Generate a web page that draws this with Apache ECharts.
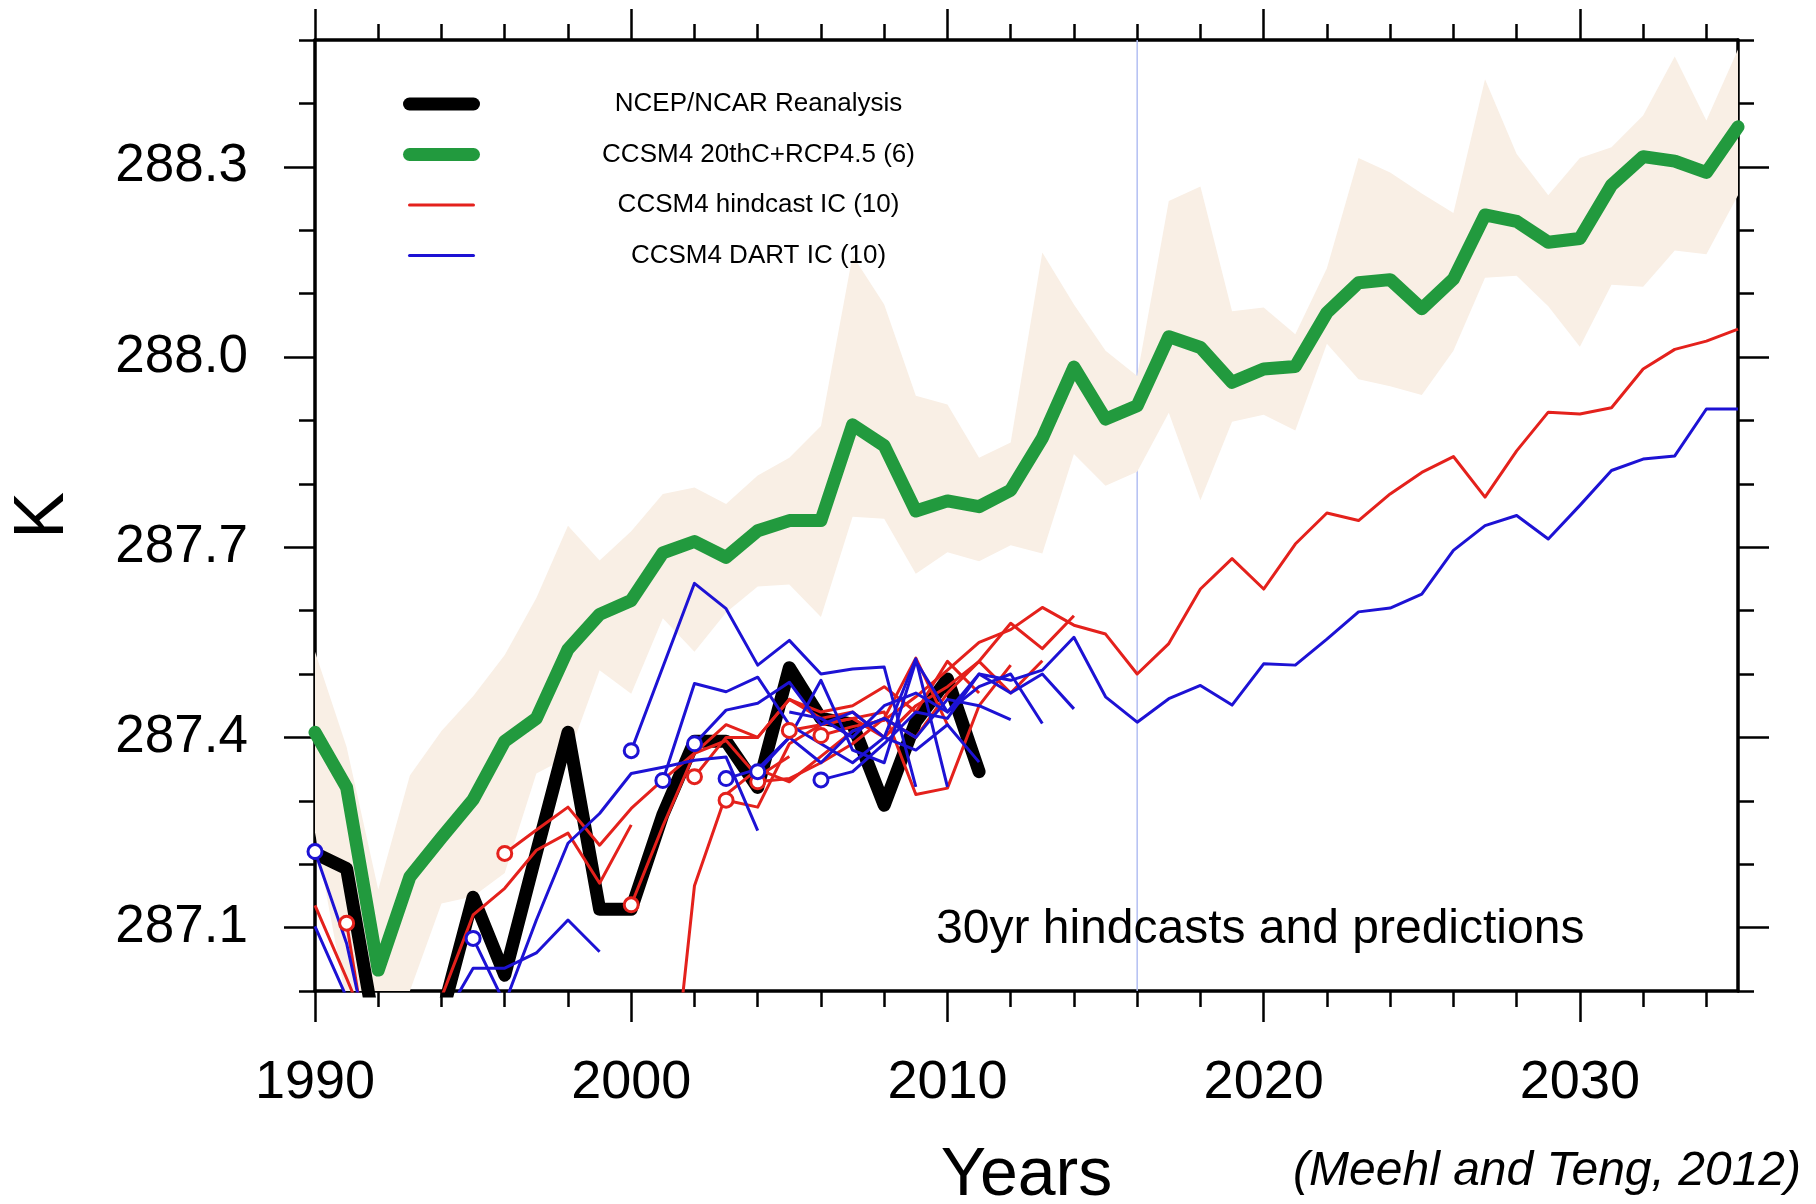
<!DOCTYPE html>
<html>
<head>
<meta charset="utf-8">
<script src="https://cdn.jsdelivr.net/npm/echarts@6/dist/echarts.min.js"></script>
<style>
html,body{margin:0;padding:0;background:#fff;}
#chart{width:1816px;height:1204px;}
</style>
</head>
<body>
<div id="chart"></div>
<script>
// ---------------- DATA ----------------
const firstYear = 1990;
const lastYear = 2035;
const divideYear = 2016;

const seriesNames = ['NCEP/NCAR Reanalysis', 'CCSM4 20thC+RCP4.5 (6)', 'CCSM4 hindcast IC (10)', 'CCSM4 DART IC (10)'];

// NCEP/NCAR reanalysis, 1990-2011
const ncepValues = [287.217, 287.193, 286.91, 286.85, 286.96, 287.148, 287.025, 287.218, 287.408, 287.129,
  287.129, 287.278, 287.394, 287.394, 287.321, 287.510, 287.430, 287.421, 287.293, 287.425, 287.492, 287.346];

// CCSM4 20thC+RCP4.5 ensemble mean, 1990-2035
const ccsmMean = [287.408, 287.321, 287.033, 287.180, 287.242, 287.302, 287.394, 287.430, 287.539, 287.594,
  287.616, 287.691, 287.709, 287.684, 287.726, 287.742, 287.742, 287.893, 287.860, 287.757,
  287.773, 287.764, 287.790, 287.872, 287.984, 287.902, 287.923, 288.032, 288.015, 287.960,
  287.981, 287.985, 288.070, 288.117, 288.122, 288.076, 288.123, 288.224, 288.214, 288.181,
  288.187, 288.271, 288.316, 288.309, 288.291, 288.363];

// ensemble spread (shaded), 1990-2035
const bandUpper = [287.535, 287.385, 287.16, 287.34, 287.41, 287.465, 287.53, 287.62, 287.734, 287.679,
  287.725, 287.784, 287.794, 287.768, 287.813, 287.841, 287.891, 288.160, 288.083, 287.939,
  287.925, 287.841, 287.865, 288.165, 288.083, 288.010, 287.970, 288.246, 288.269, 288.072,
  288.078, 288.036, 288.140, 288.314, 288.291, 288.258, 288.227, 288.438, 288.320, 288.255,
  288.314, 288.331, 288.381, 288.474, 288.373, 288.485];
const bandLower = [287.25, 286.98, 286.95, 287.00, 287.138, 287.149, 287.186, 287.343, 287.369, 287.506,
  287.469, 287.588, 287.535, 287.597, 287.638, 287.641, 287.590, 287.748, 287.745, 287.658,
  287.692, 287.678, 287.703, 287.690, 287.847, 287.797, 287.819, 287.912, 287.774, 287.898,
  287.909, 287.884, 288.021, 287.965, 287.954, 287.940, 288.010, 288.125, 288.128, 288.080,
  288.016, 288.114, 288.111, 288.168, 288.162, 288.255];

// CCSM4 hindcast IC runs (start year, annual values, start marker drawn?)
const redStarts = [1990, 1991, 1996, 2000, 2001, 2002, 2003, 2004, 2005, 2006];
const redMarked = [false, true, true, true, false, true, true, true, true, true];
const redRuns = [
  [287.135, 287.02, 286.90],
  [287.107, 286.80, 286.75, 286.99, 287.120, 287.162, 287.222, 287.249, 287.170, 287.262],
  [287.217, 287.254, 287.290, 287.230, 287.288, 287.333, 287.375, 287.395, 287.338, 287.37],
  [287.136, 287.26, 287.375, 287.42, 287.40, 287.46, 287.43, 287.44, 287.40, 287.45],
  [286.70, 287.166, 287.31, 287.35, 287.33, 287.37, 287.41, 287.43, 287.525, 287.42],
  [287.338, 287.40, 287.40, 287.46, 287.44, 287.45, 287.48, 287.44, 287.52, 287.47],
  [287.301, 287.29, 287.39, 287.42, 287.43, 287.44, 287.31, 287.32, 287.45, 287.514],
  [287.330, 287.335, 287.36, 287.39, 287.43, 287.40, 287.47, 287.52, 287.47, 287.521],
  [287.411, 287.42, 287.43, 287.40, 287.45, 287.48, 287.52, 287.58, 287.54, 287.592],
  [287.403, 287.417, 287.427, 287.464, 287.506, 287.55, 287.57, 287.605, 287.577, 287.563,
   287.500, 287.548, 287.634, 287.682, 287.634, 287.705, 287.754, 287.742, 287.784, 287.818,
   287.843, 287.779, 287.852, 287.913, 287.910, 287.920, 287.981, 288.012, 288.025, 288.044]
];

// CCSM4 DART IC runs
const blueStarts = [1990, 1990, 1995, 2000, 2001, 2002, 2003, 2004, 2005, 2006];
const blueMarked = [true, false, true, true, true, true, true, true, false, true];
const blueRuns = [
  [287.22, 287.075, 286.85, 286.80, 286.95, 287.036, 287.036, 287.060, 287.112, 287.062],
  [287.102, 286.99, 286.85],
  [287.083, 286.98, 287.112, 287.233, 287.280, 287.343, 287.353, 287.364, 287.369, 287.253],
  [287.379, 287.511, 287.643, 287.603, 287.514, 287.553, 287.500, 287.508, 287.511, 287.322],
  [287.332, 287.485, 287.472, 287.495, 287.42, 287.39, 287.36, 287.40, 287.524, 287.322],
  [287.390, 287.443, 287.454, 287.487, 287.42, 287.44, 287.40, 287.38, 287.42, 287.361],
  [287.335, 287.35, 287.40, 287.36, 287.41, 287.43, 287.40, 287.46, 287.45, 287.428],
  [287.346, 287.40, 287.49, 287.38, 287.36, 287.52, 287.44, 287.48, 287.50, 287.422],
  [287.44, 287.43, 287.40, 287.45, 287.47, 287.44, 287.50, 287.47, 287.50, 287.445],
  [287.333, 287.346, 287.39, 287.44, 287.43, 287.50, 287.49, 287.506, 287.558, 287.464,
   287.424, 287.461, 287.482, 287.451, 287.516, 287.514, 287.555, 287.598, 287.604, 287.626,
   287.695, 287.734, 287.750, 287.713, 287.766, 287.821, 287.839, 287.844, 287.918, 287.918]
];

// axis ticks
const yMin = 287.0, yMax = 288.5;
const xMajorTicks = [1990, 2000, 2010, 2020, 2030];
const xMinorTicks = [1992, 1994, 1996, 1998, 2002, 2004, 2006, 2008, 2012, 2014, 2016, 2018,
  2022, 2024, 2026, 2028, 2032, 2034];
const yMajorTicks = [287.1, 287.4, 287.7, 288.0, 288.3];
const yMinorTicks = [287.0, 287.2, 287.3, 287.5, 287.6, 287.8, 287.9, 288.1, 288.2, 288.4, 288.5];

const annotationText = '30yr hindcasts and predictions';
const creditText = '(Meehl and Teng, 2012)';

// ---------------- CHART ----------------
const FONT = '"Liberation Sans", Arial, Helvetica, sans-serif';
const RED = '#e4211c';
const BLUE = '#1d12d4';
const GREEN = '#229a3e';
const BAND = '#f9efe5';

const years = [];
for (let y = firstYear; y <= lastYear; y++) years.push(y);
const pairs = (start, vals) => vals.map((v, i) => [start + i, v]);

function xAx(pos, ticks, len, major) {
  const labelled = major && pos === 'bottom';
  return {
    type: 'value', gridIndex: 0, position: pos, min: firstYear, max: lastYear,
    axisLine: { show: major, onZero: false, lineStyle: { color: '#000', width: 3.5 } },
    axisTick: { show: true, inside: false, length: len, customValues: ticks, lineStyle: { color: '#000', width: 2.5 } },
    axisLabel: { show: labelled, customValues: ticks, margin: 65, fontSize: 54, fontFamily: FONT, color: '#000',
      formatter: v => String(v) },
    splitLine: { show: false },
    name: labelled ? 'Years' : '',
    nameLocation: 'middle', nameGap: 151,
    nameTextStyle: { fontSize: 68, fontFamily: FONT, color: '#000' }
  };
}
function yAx(pos, ticks, len, major) {
  const labelled = major && pos === 'left';
  return {
    type: 'value', gridIndex: 0, position: pos, min: yMin, max: yMax,
    axisLine: { show: major, onZero: false, lineStyle: { color: '#000', width: 3.5 } },
    axisTick: { show: true, inside: false, length: len, customValues: ticks, lineStyle: { color: '#000', width: 2.5 } },
    axisLabel: { show: labelled, customValues: ticks, margin: 67, fontSize: 53, fontFamily: FONT, color: '#000',
      formatter: v => v.toFixed(1) },
    splitLine: { show: false },
    name: labelled ? 'K' : '',
    nameLocation: 'middle', nameGap: 236,
    nameTextStyle: { fontSize: 70, fontFamily: FONT, color: '#000' }
  };
}

const series = [];
// 2016 divider (under the shading)
series.push({
  type: 'line', name: 'divider', z: 1, silent: true, symbol: 'none',
  data: [[divideYear, yMin], [divideYear, yMax]],
  lineStyle: { color: '#b3bff3', width: 1.5 }
});
// spread band: polygon through the axis scales
series.push({
  type: 'custom', name: 'spread', z: 2, silent: true,
  data: [[firstYear, yMin]],
  renderItem: function (params, api) {
    const pts = [];
    for (let i = 0; i < years.length; i++) pts.push(api.coord([years[i], bandUpper[i]]));
    for (let i = years.length - 1; i >= 0; i--) pts.push(api.coord([years[i], bandLower[i]]));
    const cs = params.coordSys;
    return {
      type: 'group',
      clipPath: { type: 'rect', shape: { x: cs.x, y: cs.y, width: cs.width, height: cs.height } },
      children: [{ type: 'polygon', shape: { points: pts }, style: { fill: BAND, stroke: null } }]
    };
  }
});
// ensemble mean
series.push({
  type: 'line', name: seriesNames[1], z: 3, symbol: 'none',
  data: pairs(firstYear, ccsmMean),
  itemStyle: { color: GREEN },
  lineStyle: { color: GREEN, width: 13, cap: 'round', join: 'round' }
});
// reanalysis
series.push({
  type: 'line', name: seriesNames[0], z: 4, symbol: 'none',
  data: pairs(firstYear, ncepValues),
  itemStyle: { color: '#000' },
  lineStyle: { color: '#000', width: 13, cap: 'round', join: 'round' }
});
// hindcasts
redRuns.forEach((run, k) => {
  series.push({
    type: 'line', name: seriesNames[2], z: 5, symbol: 'none',
    data: pairs(redStarts[k], run),
    itemStyle: { color: RED },
    lineStyle: { color: RED, width: 3, join: 'round' }
  });
});
blueRuns.forEach((run, k) => {
  series.push({
    type: 'line', name: seriesNames[3], z: 5, symbol: 'none',
    data: pairs(blueStarts[k], run),
    itemStyle: { color: BLUE },
    lineStyle: { color: BLUE, width: 3, join: 'round' }
  });
});
// start markers
const redMarks = redRuns.map((r, k) => [redStarts[k], r[0]]).filter((p, k) => redMarked[k]);
const blueMarks = blueRuns.map((r, k) => [blueStarts[k], r[0]]).filter((p, k) => blueMarked[k]);
series.push({
  type: 'scatter', name: 'red-start', z: 6, symbol: 'circle', symbolSize: 14, clip: false,
  data: redMarks, itemStyle: { color: '#fff', borderColor: RED, borderWidth: 3, opacity: 1 }
});
series.push({
  type: 'scatter', name: 'blue-start', z: 6, symbol: 'circle', symbolSize: 14, clip: false,
  data: blueMarks, itemStyle: { color: '#fff', borderColor: BLUE, borderWidth: 3, opacity: 1 }
});

const legendWidths = [13, 13, 3, 3];
const legendColors = ['#000', GREEN, RED, BLUE];

const option = {
  animation: false,
  backgroundColor: '#fff',
  grid: { left: 315, right: 78, top: 40, bottom: 213, containLabel: false, outerBoundsMode: 'none' },
  xAxis: [
    xAx('bottom', xMajorTicks, 31, true),
    xAx('bottom', xMinorTicks, 16, false),
    xAx('top', xMajorTicks, 31, true),
    xAx('top', xMinorTicks, 16, false)
  ],
  yAxis: [
    yAx('left', yMajorTicks, 31, true),
    yAx('left', yMinorTicks, 16, false),
    yAx('right', yMajorTicks, 31, true),
    yAx('right', yMinorTicks, 16, false)
  ],
  legend: {
    data: seriesNames.map((n, k) => ({
      name: n,
      lineStyle: { width: legendWidths[k], color: legendColors[k], cap: 'round' },
      itemStyle: { opacity: 0 }
    })),
    orient: 'vertical', left: 403, top: 91, padding: 0,
    itemWidth: 64, itemHeight: 30, itemGap: 24.5,
    selectedMode: false,
    itemStyle: { opacity: 0 },
    formatter: name => '{t|' + name + '}',
    textStyle: {
      fontSize: 26, fontFamily: FONT, color: '#000',
      rich: { t: { width: 560, align: 'center', fontSize: 26, lineHeight: 30, fontFamily: FONT, color: '#000' } }
    }
  },
  graphic: [
    { type: 'text', x: 936, y: 930, z: 10,
      style: { text: annotationText, fontSize: 48, fontFamily: FONT, fill: '#000', align: 'left', verticalAlign: 'middle' } },
    { type: 'text', x: 1801, y: 1172, z: 10,
      style: { text: creditText, fontSize: 48, fontStyle: 'italic', fontFamily: FONT, fill: '#000', align: 'right', verticalAlign: 'middle' } }
  ],
  series: series
};

const chart = echarts.init(document.getElementById('chart'), null, { renderer: 'canvas' });
chart.setOption(option);
</script>
</body>
</html>
